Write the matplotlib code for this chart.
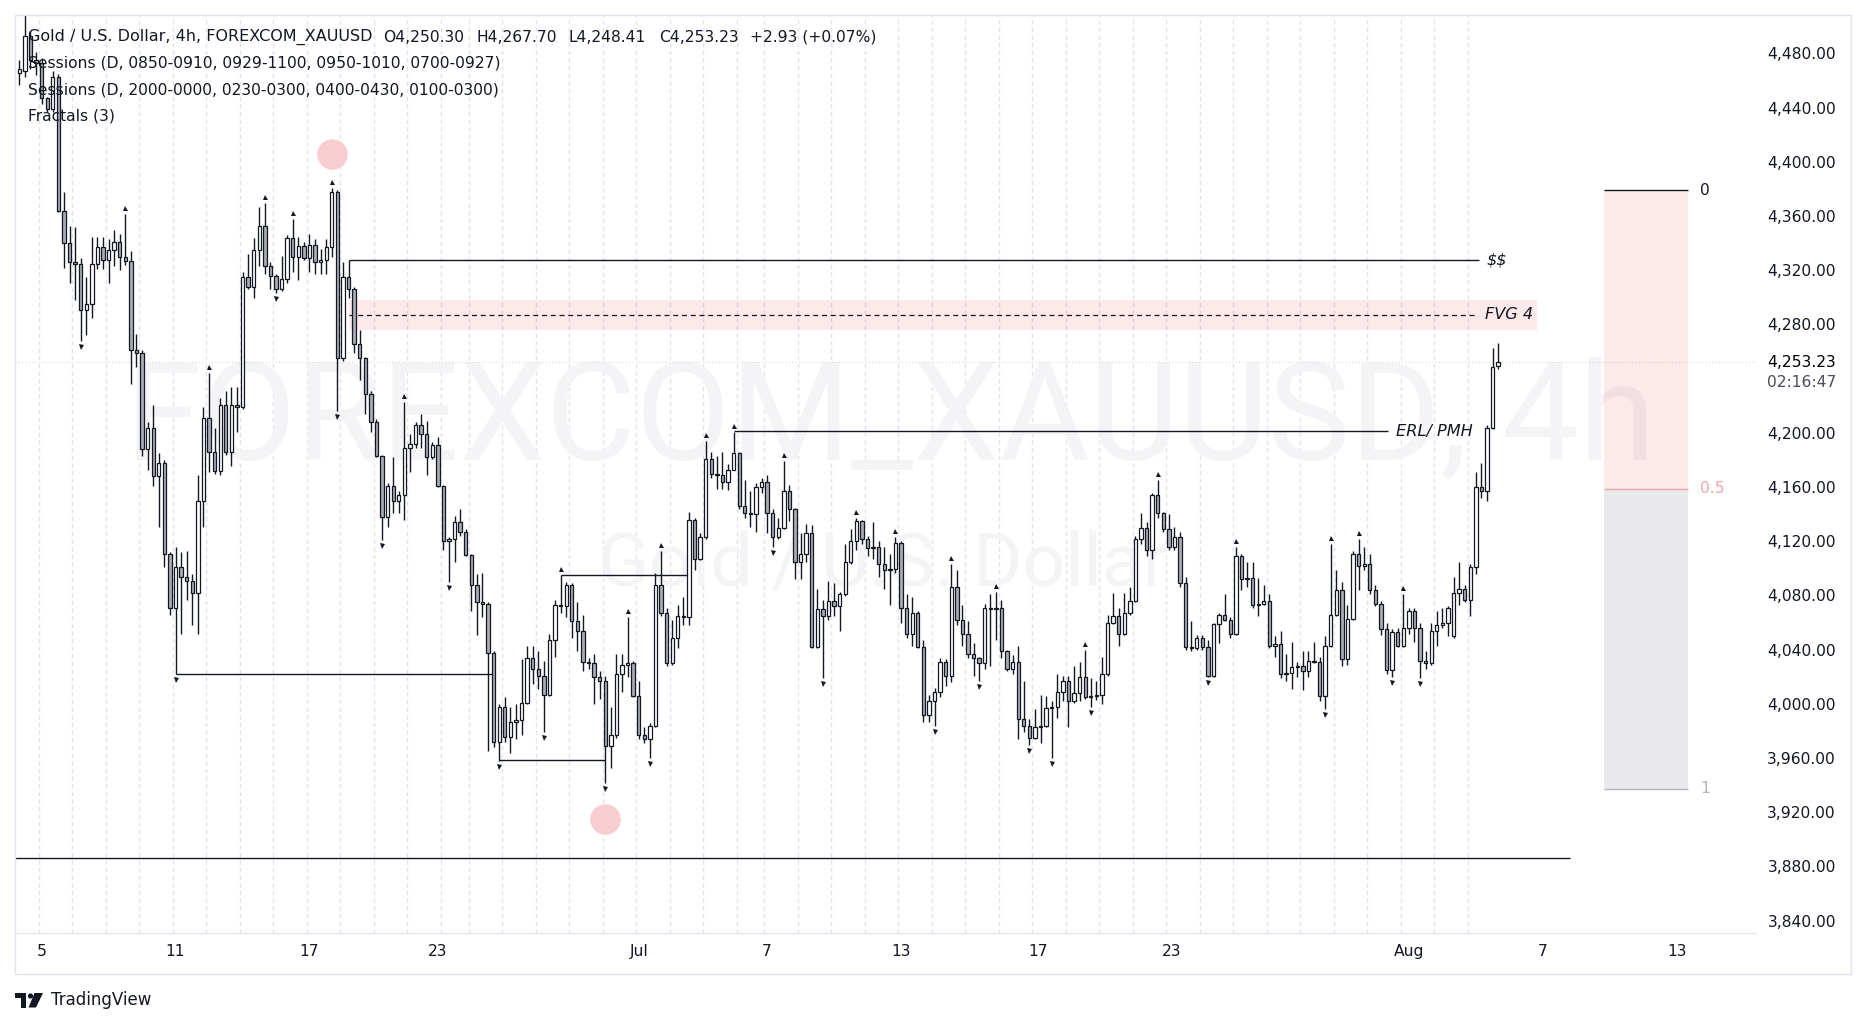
import matplotlib
matplotlib.use("Agg")
import matplotlib.pyplot as plt
from matplotlib import transforms
from matplotlib.patches import Rectangle, Polygon, Circle

plt.rcParams['font.family'] = ['DejaVu Sans']

# FOREXCOM XAUUSD, 4h bars, oldest first
opens = [
    4467, 4468, 4494, 4476, 4474, 4448, 4440, 4464, 4365, 4341,
    4327, 4326, 4292, 4296, 4326, 4338, 4329, 4336, 4342, 4331,
    4328, 4262, 4260, 4189, 4205, 4169, 4179, 4112, 4072, 4102,
    4095, 4092, 4083, 4151, 4212, 4187, 4173, 4222, 4187, 4222,
    4220, 4316, 4309, 4336, 4354, 4324, 4317, 4307, 4315, 4345,
    4331, 4339, 4330, 4340, 4327, 4329, 4338, 4379, 4256, 4316,
    4307, 4267, 4256, 4230, 4209, 4184, 4139, 4162, 4151, 4155,
    4190, 4193, 4207, 4200, 4183, 4192, 4162, 4121, 4123, 4135,
    4128, 4111, 4089, 4076, 4075, 4039, 3973, 3999, 3977, 3988,
    3989, 4002, 4035, 4027, 4022, 4008, 4048, 4074, 4073, 4089,
    4062, 4055, 4032, 4031, 4021, 4018, 3970, 3978, 4023, 4030,
    4031, 4007, 3978, 3975, 3985, 4089, 4068, 4031, 4050, 4066,
    4065, 4137, 4108, 4124, 4182, 4171, 4170, 4165, 4174, 4186,
    4147, 4142, 4141, 4161, 4165, 4142, 4124, 4131, 4158, 4145,
    4106, 4112, 4127, 4043, 4071, 4066, 4077, 4073, 4082, 4106,
    4121, 4136, 4123, 4116, 4117, 4104, 4100, 4101, 4120, 4072,
    4053, 4068, 4043, 3993, 4003, 4010, 4032, 4022, 4087, 4063,
    4053, 4038, 4035, 4031, 4072, 4071, 4072, 4040, 4027, 4032,
    3990, 3985, 3976, 3984, 3985, 3998, 3999, 4010, 4018, 4003,
    4009, 4021, 4006, 4007, 4008, 4023, 4061, 4066, 4053, 4068,
    4077, 4123, 4131, 4115, 4155, 4142, 4130, 4117, 4124, 4090,
    4043, 4042, 4050, 4043, 4022, 4060, 4067, 4063, 4053, 4110,
    4093, 4094, 4074, 4075, 4077, 4044, 4045, 4023, 4024, 4028,
    4029, 4025, 4033, 4032, 4007, 4044, 4067, 4085, 4034, 4064,
    4112, 4103, 4104, 4085, 4075, 4056, 4026, 4054, 4044, 4057,
    4070, 4057, 4033, 4031, 4055, 4059, 4061, 4051, 4083, 4086,
    4078, 4102, 4161, 4158, 4205, 4250.30]

closes = [
    4470, 4494, 4476, 4474, 4448, 4440, 4464, 4365, 4341, 4327,
    4326, 4292, 4296, 4326, 4338, 4329, 4336, 4342, 4331, 4328,
    4262, 4260, 4189, 4205, 4169, 4179, 4112, 4072, 4102, 4095,
    4092, 4083, 4151, 4212, 4187, 4173, 4222, 4187, 4222, 4220,
    4316, 4309, 4336, 4354, 4324, 4317, 4307, 4315, 4345, 4331,
    4339, 4330, 4340, 4327, 4329, 4338, 4379, 4256, 4316, 4307,
    4267, 4256, 4230, 4209, 4184, 4139, 4162, 4151, 4155, 4190,
    4193, 4207, 4200, 4183, 4192, 4162, 4121, 4123, 4135, 4128,
    4111, 4089, 4076, 4075, 4039, 3973, 3999, 3977, 3988, 3989,
    4002, 4035, 4027, 4022, 4008, 4048, 4074, 4073, 4089, 4062,
    4055, 4032, 4031, 4021, 4018, 3970, 3978, 4023, 4030, 4031,
    4007, 3978, 3975, 3985, 4089, 4068, 4031, 4050, 4066, 4065,
    4137, 4108, 4124, 4182, 4171, 4170, 4165, 4174, 4186, 4147,
    4142, 4141, 4161, 4165, 4142, 4124, 4131, 4158, 4145, 4106,
    4112, 4127, 4043, 4071, 4066, 4077, 4073, 4082, 4106, 4121,
    4136, 4123, 4116, 4117, 4104, 4100, 4101, 4120, 4072, 4053,
    4068, 4043, 3993, 4003, 4010, 4032, 4022, 4087, 4063, 4053,
    4038, 4035, 4031, 4072, 4071, 4072, 4040, 4027, 4032, 3990,
    3985, 3976, 3984, 3985, 3998, 3999, 4010, 4018, 4003, 4009,
    4021, 4006, 4007, 4008, 4023, 4061, 4066, 4053, 4068, 4077,
    4123, 4131, 4115, 4155, 4142, 4130, 4117, 4124, 4090, 4043,
    4042, 4050, 4043, 4022, 4060, 4067, 4063, 4053, 4110, 4093,
    4094, 4074, 4075, 4077, 4044, 4045, 4023, 4024, 4028, 4029,
    4025, 4033, 4032, 4007, 4044, 4067, 4085, 4034, 4064, 4112,
    4103, 4104, 4085, 4075, 4056, 4026, 4054, 4044, 4057, 4070,
    4057, 4033, 4031, 4055, 4059, 4061, 4072, 4083, 4086, 4078,
    4102, 4161, 4158, 4205, 4250, 4253.23]

highs = [
    4476, 4512, 4498, 4482, 4478, 4449, 4468, 4466, 4379, 4354,
    4353, 4330, 4316, 4346, 4346, 4346, 4344, 4351, 4348, 4363,
    4335, 4274, 4262, 4209, 4222, 4186, 4181, 4113, 4117, 4113,
    4114, 4097, 4170, 4220, 4245, 4205, 4227, 4232, 4235, 4235,
    4320, 4333, 4345, 4368, 4371, 4327, 4318, 4332, 4347, 4359,
    4346, 4342, 4348, 4344, 4337, 4344, 4382, 4380, 4327, 4329,
    4309, 4277, 4257, 4232, 4211, 4185, 4164, 4183, 4158, 4224,
    4200, 4209, 4215, 4210, 4194, 4198, 4163, 4124, 4140, 4145,
    4130, 4112, 4097, 4098, 4076, 4040, 4001, 4006, 3999, 4001,
    4034, 4044, 4044, 4040, 4033, 4053, 4078, 4096, 4091, 4090,
    4076, 4067, 4035, 4038, 4025, 4022, 3999, 4038, 4038, 4065,
    4033, 4018, 3984, 3987, 4098, 4114, 4072, 4063, 4074, 4080,
    4143, 4138, 4127, 4195, 4187, 4184, 4187, 4178, 4202, 4187,
    4166, 4158, 4164, 4168, 4170, 4145, 4138, 4180, 4163, 4146,
    4127, 4134, 4133, 4086, 4078, 4092, 4090, 4084, 4119, 4130,
    4138, 4137, 4125, 4135, 4121, 4117, 4112, 4124, 4121, 4082,
    4080, 4070, 4048, 4008, 4013, 4035, 4034, 4104, 4100, 4074,
    4062, 4046, 4036, 4075, 4082, 4084, 4078, 4041, 4037, 4044,
    4018, 3990, 3997, 4008, 4007, 4003, 4023, 4022, 4022, 4029,
    4032, 4041, 4020, 4018, 4036, 4067, 4083, 4072, 4083, 4087,
    4125, 4142, 4135, 4157, 4166, 4143, 4141, 4132, 4128, 4095,
    4062, 4052, 4052, 4048, 4061, 4068, 4082, 4065, 4117, 4112,
    4106, 4106, 4094, 4089, 4082, 4051, 4055, 4038, 4047, 4032,
    4040, 4040, 4047, 4036, 4051, 4119, 4100, 4091, 4074, 4114,
    4123, 4117, 4112, 4089, 4077, 4061, 4056, 4057, 4082, 4072,
    4072, 4061, 4040, 4061, 4070, 4072, 4073, 4095, 4106, 4089,
    4104, 4172, 4179, 4207, 4264, 4267.70]

lows = [
    4458, 4464, 4470, 4465, 4444, 4438, 4438, 4364, 4323, 4312,
    4299, 4269, 4273, 4286, 4322, 4322, 4312, 4324, 4321, 4325,
    4237, 4250, 4184, 4174, 4162, 4132, 4102, 4067, 4023, 4053,
    4078, 4059, 4053, 4132, 4172, 4171, 4170, 4185, 4177, 4202,
    4219, 4307, 4301, 4324, 4318, 4307, 4304, 4306, 4312, 4320,
    4314, 4329, 4320, 4318, 4318, 4318, 4331, 4217, 4254, 4301,
    4260, 4240, 4215, 4202, 4183, 4122, 4132, 4142, 4142, 4137,
    4172, 4190, 4190, 4170, 4182, 4161, 4115, 4091, 4106, 4125,
    4110, 4070, 4052, 4065, 3966, 3969, 3959, 3973, 3965, 3975,
    3978, 4001, 4016, 4012, 3980, 4007, 4036, 4068, 4065, 4050,
    4040, 4025, 4027, 4001, 4005, 3943, 3954, 3976, 4010, 4021,
    4006, 3975, 3972, 3961, 3984, 4066, 4029, 4030, 4042, 4059,
    4059, 4100, 4107, 4123, 4168, 4160, 4160, 4159, 4174, 4145,
    4138, 4132, 4128, 4157, 4127, 4117, 4123, 4130, 4136, 4093,
    4093, 4106, 4042, 4042, 4020, 4063, 4066, 4055, 4081, 4104,
    4115, 4119, 4110, 4108, 4095, 4086, 4074, 4098, 4061, 4050,
    4044, 4042, 3988, 3988, 3985, 4006, 4014, 4017, 4059, 4044,
    4035, 4022, 4018, 4027, 4029, 4048, 4035, 4025, 4023, 3975,
    3980, 3971, 3975, 3972, 3984, 3961, 3991, 4003, 3984, 4002,
    4003, 4005, 3999, 4004, 4001, 4022, 4060, 4044, 4052, 4067,
    4076, 4119, 4110, 4108, 4138, 4128, 4115, 4115, 4087, 4041,
    4040, 4041, 4041, 4021, 4021, 4046, 4062, 4050, 4052, 4085,
    4087, 4072, 4066, 4074, 4042, 4036, 4020, 4018, 4012, 4021,
    4011, 4021, 4031, 4003, 3997, 4043, 4066, 4029, 4030, 4063,
    4085, 4100, 4082, 4073, 4052, 4023, 4021, 4043, 4043, 4053,
    4047, 4020, 4027, 4030, 4044, 4057, 4051, 4050, 4074, 4076,
    4066, 4097, 4153, 4151, 4204, 4248.41]

# Fractals (3) marks, by bar number
fractal_highs = [19, 34, 44, 49, 56, 69, 97, 109, 115, 123, 128, 137, 150,
                 157, 167, 175, 191, 204, 218, 235, 240, 248]
fractal_lows = [11, 28, 46, 57, 65, 77, 86, 94, 105, 113, 135, 144, 164,
                172, 181, 185, 192, 213, 234, 246, 251]

# first bar of every trading day (grid) and the date labels
day_starts = [4, 10, 16, 22, 28, 34, 40, 46, 52, 58, 64, 70, 76, 81, 87, 93,
              99, 105, 111, 117, 123, 129, 134, 140, 146, 152, 158, 164, 170,
              176, 182, 188, 194, 200, 206, 212, 218, 224, 230, 236, 242, 248,
              254, 260]
date_ticks = [4, 28, 52, 75, 111, 134, 158, 182.5, 206.5, 249, 273, 297]
date_labels = ["5", "11", "17", "23", "Jul", "7", "13", "17", "23", "Aug", "7", "13"]

price_ticks = [4480, 4440, 4400, 4360, 4320, 4280, 4200, 4160, 4120, 4080,
               4040, 4000, 3960, 3920, 3880, 3840]
last_price = 4253.23
countdown = "02:16:47"

# drawings on the chart
ss_level = 4329
fvg_top, fvg_bottom, fvg_mid = 4299.3, 4276.8, 4288.3
erl_level = 4202.4
swing_lines = [(4023.4, 28, 85), (3959.6, 86, 105), (4096, 97, 120)]
bottom_level = 3887
fib_levels = [4380, 4160, 3938.5]
fib_labels = ["0", "0.5", "1"]
circle_bars = [56, 105]
circle_prices = [4407, 3916]

title_parts = ["Gold / U.S. Dollar, 4h, FOREXCOM_XAUUSD", "O4,250.30", "H4,267.70",
               "L4,248.41", "C4,253.23", "+2.93 (+0.07%)"]
title_x = [27.5, 383, 476, 568, 659, 750]
legend_lines = [
    "Sessions (D, 0850-0910, 0929-1100, 0950-1010, 0700-0927)",
    "Sessions (D, 2000-0000, 0230-0300, 0400-0430, 0100-0300)",
    "Fractals (3)",
]

INK = '#131722'
FS = 11.2
W, H = 1866, 1027
fig = plt.figure(figsize=(W / 100, H / 100), dpi=100)
fig.patch.set_facecolor('white')
px = transforms.Affine2D().scale(1 / W, -1 / H).translate(0, 1) + fig.transFigure

ax = fig.add_axes([15 / W, 1 - 933 / H, (1756 - 15) / W, (933 - 15) / H])
ax.patch.set_visible(False)
ax.set_xlim(-0.77, 311.2)
ax.set_ylim(3832, 4509.5)
for s in ['top', 'left', 'right']:
    ax.spines[s].set_visible(False)
ax.spines['bottom'].set_color('#e0e3eb')

# watermark
wm = ax.text(890, 460, "FOREXCOM_XAUUSD, 4h", transform=px, fontsize=106,
             family=['Roboto', 'DejaVu Sans'], color='#f4f4f6',
             ha='center', va='baseline', zorder=0.2)
wm2 = ax.text(883, 585, "Gold / U.S. Dollar", transform=px, fontsize=56,
              family=['Roboto', 'DejaVu Sans'], color='#f4f4f6',
              ha='center', va='baseline', zorder=0.2)
rend = fig.canvas.get_renderer()
for t, target in [(wm, 1530), (wm2, 570)]:
    bb = t.get_window_extent(renderer=rend)
    t.set_fontsize(t.get_fontsize() * target / bb.width)

# day grid
ax.vlines([d - 0.47 for d in day_starts], 3832, 4509.5, colors='#e0e3eb',
          linestyles=(0, (3, 2.5)), lw=1, zorder=0)

# last price line
ax.axhline(last_price, color='#d6d8de', lw=0.8, ls=(0, (1, 2)), zorder=0.5)

# FVG zone
ax.add_patch(Rectangle((59.1, fvg_bottom), 271.9 - 59.1, fvg_top - fvg_bottom,
                       fc='#f23645', alpha=0.11, ec='none', zorder=1))
ax.hlines(fvg_mid, 59, 261, colors=INK, linestyles=(0, (4, 3)), lw=0.9, zorder=2)
ax.hlines(ss_level, 59, 261.5, colors=INK, lw=1, zorder=2)
ax.hlines(erl_level, 128, 245.2, colors=INK, lw=1, zorder=2)
for lvl, a, b in swing_lines:
    ax.hlines(lvl, a, b, colors=INK, lw=1, zorder=2)
ax.hlines(bottom_level, -0.77, 277.9, colors=INK, lw=1, zorder=2)

lab = dict(style='italic', va='center', ha='left', fontsize=11.6, color=INK,
           parse_math=False)
ax.text(262.9, ss_level, "$$", **lab)
ax.text(262.6, fvg_mid, "FVG 4", **lab)
ax.text(246.7, erl_level, "ERL/ PMH", **lab)

# fib box
ax.add_patch(Rectangle((284, fib_levels[1]), 15, fib_levels[0] - fib_levels[1],
                       fc='#f23645', alpha=0.11, ec='none', zorder=1))
ax.add_patch(Rectangle((284, fib_levels[2]), 15, fib_levels[1] - fib_levels[2],
                       fc='#787b86', alpha=0.16, ec='none', zorder=1))
for lvl, txt, col in zip(fib_levels, fib_labels, [INK, '#f4a3ab', '#b2b5be']):
    ax.hlines(lvl, 284, 299, colors=col, lw=1, zorder=2)
    ax.text(301.2, lvl, txt, color=col, fontsize=FS, va='center', ha='left')

# pink circles
ax.scatter(circle_bars, circle_prices, s=22 ** 2, c='#f8cdd1', linewidths=0, zorder=2)

# candles
n = len(opens)
xs = list(range(n))
ax.vlines(xs, lows, highs, colors=INK, lw=1, zorder=3)
bottoms = [min(o, c) for o, c in zip(opens, closes)]
heights = [max(abs(c - o), 0.7) for o, c in zip(opens, closes)]
fills = ['white' if c >= o else '#a9acb4' for o, c in zip(opens, closes)]
ax.bar(xs, heights, bottom=bottoms, width=0.6, color=fills, edgecolor=INK,
       lw=0.9, zorder=4)

# fractal arrows
up_tr = transforms.offset_copy(ax.transData, fig=fig, x=0, y=6, units='dots')
dn_tr = transforms.offset_copy(ax.transData, fig=fig, x=0, y=-6, units='dots')
ax.plot(fractal_highs, [highs[i] for i in fractal_highs], ls='none', marker='^',
        ms=3.6, color=INK, mew=0, transform=up_tr, zorder=5)
ax.plot(fractal_lows, [lows[i] for i in fractal_lows], ls='none', marker='v',
        ms=3.6, color=INK, mew=0, transform=dn_tr, zorder=5)

# axes labels
ax.set_yticks([])
ax.set_xticks(date_ticks)
ax.set_xticklabels(date_labels, fontsize=FS, color=INK)
ax.tick_params(axis='x', length=0, pad=8)

ptr = transforms.blended_transform_factory(fig.transFigure, ax.transData)
for p in price_ticks:
    ax.text(1836 / W, p, f"{p:,.2f}", transform=ptr, ha='right', va='center',
            fontsize=FS, color=INK)
ax.text(1836 / W, last_price, f"{last_price:,.2f}", transform=ptr, ha='right',
        va='center', fontsize=FS, color='#000000')
cd_tr = transforms.offset_copy(ptr, fig=fig, x=0, y=-20.6, units='dots')
ax.text(1836 / W, last_price, countdown, transform=cd_tr, ha='right',
        va='center', fontsize=FS, color='#4a4d57')

# header legend
for k, (part, xp) in enumerate(zip(title_parts, title_x)):
    fig.text(xp, 37, part, transform=px, fontsize=11.5 if k == 0 else FS,
             color=INK, ha='left', va='center', zorder=6)
for k, line in enumerate(legend_lines):
    fig.text(27.5, 63.3 + 26.3 * k, line, transform=px, fontsize=FS, color=INK,
             ha='left', va='center', zorder=6)

# outer frame
fig.patches.append(Rectangle((15, 15), 1836, 959, transform=px, fill=False,
                             ec='#e0e3eb', lw=1, zorder=6))

# TradingView logo
fig.patches.append(Rectangle((15, 993), 11, 4.5, transform=px, fc=INK, ec='none'))
fig.patches.append(Rectangle((20.5, 993), 5.5, 14.5, transform=px, fc=INK, ec='none'))
fig.patches.append(Circle((30.5, 996), 2.6, transform=px, fc=INK, ec='none'))
fig.patches.append(Polygon([(34.5, 993), (43, 993), (36, 1007.5), (28.5, 1007.5)],
                           closed=True, transform=px, fc=INK, ec='none'))
fig.text(50.6, 1000, "TradingView", transform=px, fontsize=12, color=INK,
         ha='left', va='center')

fig.savefig('out.png', dpi=100)
